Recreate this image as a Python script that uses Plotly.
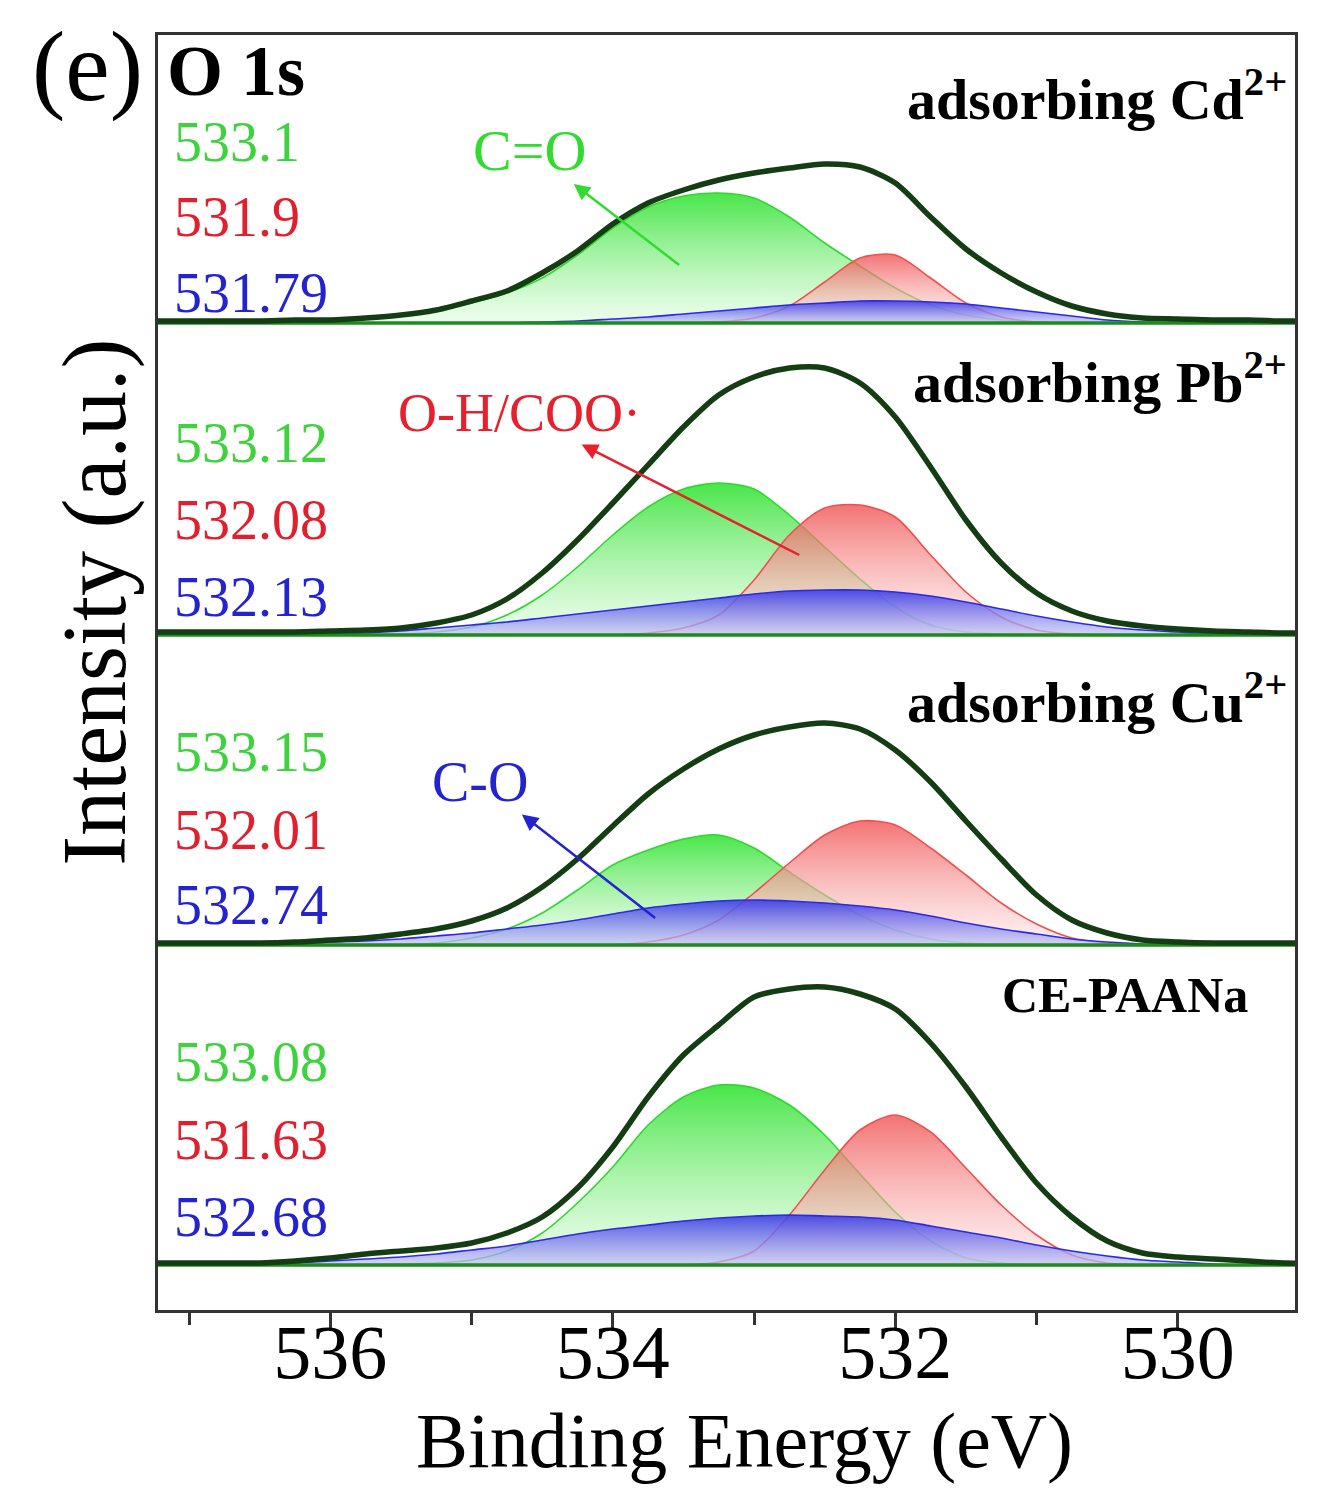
import plotly.graph_objects as go

# Binding energy grid (eV)
E = [537.25, 537.0, 536.75, 536.5, 536.25, 536.0, 535.75, 535.5, 535.25, 535.0,
     534.75, 534.5, 534.25, 534.0, 533.75, 533.5, 533.25, 533.0, 532.75, 532.5,
     532.25, 532.0, 531.75, 531.5, 531.25, 531.0, 530.75, 530.5, 530.25, 530.0,
     529.75, 529.5, 529.25, 529.0]

# ---- adsorbing Cd2+ ----
cd_env   = [2, 2, 2, 2, 3, 3, 5, 8, 13, 22, 32, 50, 72, 99, 120, 133, 143, 150, 155, 159,
            156, 140, 106, 74, 50, 31, 17, 9, 5, 4, 3, 3, 2, 2]
cd_green = [0, 0, 0, 0, 1, 2, 4, 7, 12, 20, 30, 45, 68, 95, 116, 127, 130, 125, 106, 80,
            57, 35, 18, 8, 3, 1, 0, 0, 0, 0, 0, 0, 0, 0]
cd_red   = [0, 0, 0, 0, 0, 0, 0, 0, 0, 0, 0, 0, 0, 0, 0, 0, 1, 5, 17, 41,
            65, 68, 45, 20, 6, 1, 0, 0, 0, 0, 0, 0, 0, 0]
cd_blue  = [0, 0, 0, 0, 0, 0, 0, 0, 0, 0, 0, 1, 2, 4, 6, 9, 12, 15, 18, 20,
            22, 22, 21, 19, 15, 11, 7, 3, 1, 0, 0, 0, 0, 0]

# ---- adsorbing Pb2+ ----
pb_env   = [3, 3, 3, 3, 3, 4, 5, 7, 12, 20, 36, 62, 95, 132, 170, 208, 240, 258, 267, 267,
            252, 218, 168, 115, 72, 42, 24, 14, 9, 6, 4, 3, 2, 2]
pb_green = [0, 0, 0, 0, 0, 0, 0, 1, 3, 8, 20, 40, 68, 100, 128, 146, 152, 146, 120, 88,
            56, 28, 10, 3, 1, 0, 0, 0, 0, 0, 0, 0, 0, 0]
pb_red   = [0, 0, 0, 0, 0, 0, 0, 0, 0, 0, 0, 0, 0, 0, 2, 7, 20, 55, 100, 127,
            130, 118, 80, 43, 18, 5, 1, 0, 0, 0, 0, 0, 0, 0]
pb_blue  = [0, 0, 0, 0, 0, 1, 2, 4, 7, 10, 13, 17, 21, 25, 29, 33, 37, 41, 44, 45,
            45, 43, 39, 33, 26, 19, 13, 8, 5, 3, 1, 0, 0, 0]

# ---- adsorbing Cu2+ ----
cu_env   = [2, 2, 2, 2, 3, 5, 7, 11, 16, 24, 37, 58, 86, 119, 151, 176, 196, 210, 218, 222,
            216, 195, 163, 124, 86, 50, 25, 12, 5, 3, 2, 2, 2, 2]
cu_green = [0, 0, 0, 0, 0, 0, 0, 0, 2, 7, 16, 32, 55, 80, 95, 106, 110, 97, 73, 50,
            30, 15, 6, 2, 0, 0, 0, 0, 0, 0, 0, 0, 0, 0]
cu_red   = [0, 0, 0, 0, 0, 0, 0, 0, 0, 0, 0, 0, 0, 0, 3, 10, 25, 52, 82, 110,
            124, 120, 97, 70, 42, 21, 7, 2, 0, 0, 0, 0, 0, 0]
cu_blue  = [0, 0, 0, 0, 1, 3, 4, 6, 9, 12, 16, 20, 25, 31, 37, 41, 44, 45, 44, 42,
            39, 35, 29, 22, 16, 11, 6, 3, 1, 0, 0, 0, 0, 0]

# ---- CE-PAANa ----
ce_env   = [2, 2, 2, 2, 4, 7, 11, 14, 17, 22, 32, 48, 77, 118, 168, 210, 240, 268, 276, 278,
            271, 256, 222, 178, 128, 82, 48, 24, 12, 8, 6, 4, 2, 2]
ce_green = [0, 0, 0, 0, 0, 0, 0, 1, 2, 5, 14, 32, 62, 98, 140, 168, 180, 177, 160, 130,
            91, 53, 24, 7, 2, 0, 0, 0, 0, 0, 0, 0, 0, 0]
ce_red   = [0, 0, 0, 0, 0, 0, 0, 0, 0, 0, 0, 0, 0, 0, 0, 0, 3, 14, 50, 95,
            135, 150, 133, 97, 60, 30, 10, 2, 0, 0, 0, 0, 0, 0]
ce_blue  = [0, 0, 0, 0, 2, 4, 6, 8, 11, 15, 19, 25, 31, 36, 40, 44, 47, 49, 50, 49,
            48, 45, 39, 33, 27, 20, 14, 9, 5, 3, 1, 0, 0, 0]

panel_names = ["adsorbing Cd<sup>2+</sup>", "adsorbing Pb<sup>2+</sup>",
               "adsorbing Cu<sup>2+</sup>", "CE-PAANa"]
panel_offsets = [987, 675, 365, 45]
peak_labels = [["533.1", "531.9", "531.79"],
               ["533.12", "532.08", "532.13"],
               ["533.15", "532.01", "532.74"],
               ["533.08", "531.63", "532.68"]]

panels = [
    (cd_env, cd_green, cd_red, cd_blue),
    (pb_env, pb_green, pb_red, pb_blue),
    (cu_env, cu_green, cu_red, cu_blue),
    (ce_env, ce_green, ce_red, ce_blue),
]

FONT = "Liberation Serif"
comp_styles = [
    # line colour, bottom colour, top colour
    ("#2fd82f", "rgba(225,252,225,0.55)", "rgba(40,225,40,0.85)"),
    ("#f05050", "rgba(255,230,230,0.50)", "rgba(240,80,80,0.80)"),
    ("#2a2ae6", "rgba(195,195,245,0.70)", "rgba(60,60,230,0.90)"),
]
label_colors = ["#3fd23f", "#e0202e", "#2323d0"]

fig = go.Figure()

for (env, g, r, b), off in zip(panels, panel_offsets):
    for comp, (lc, cbot, ctop) in zip((g, r, b), comp_styles):
        fig.add_trace(go.Scatter(x=E, y=[off] * len(E), mode="lines",
                                 line=dict(width=0, color="rgba(0,0,0,0)"),
                                 hoverinfo="skip", showlegend=False))
        fig.add_trace(go.Scatter(
            x=E, y=[off + v for v in comp], mode="lines",
            line=dict(color=lc, width=1.6, shape="spline", smoothing=0.8),
            fill="tonexty",
            fillgradient=dict(type="vertical",
                              colorscale=[[0, cbot], [1, ctop]]),
            showlegend=False, hoverinfo="skip"))
    # baseline
    fig.add_trace(go.Scatter(x=[E[0], E[-1]], y=[off, off], mode="lines",
                             line=dict(color="#1e8a1e", width=3.5),
                             showlegend=False, hoverinfo="skip"))
    # envelope
    fig.add_trace(go.Scatter(x=E, y=[off + v for v in env], mode="lines",
                             line=dict(color="#143d14", width=5.5, shape="spline", smoothing=0.8),
                             showlegend=False, hoverinfo="skip"))

annotations = []
# peak position labels
label_y = [[1168, 1093, 1017], [867, 790, 713], [558, 480, 405], [248, 170, 93]]
for labs, ys in zip(peak_labels, label_y):
    for t, yy, col in zip(labs, ys, label_colors):
        annotations.append(dict(x=537.12, y=yy, xref="x", yref="y", text=t,
                                showarrow=False, xanchor="left", yanchor="middle",
                                font=dict(family=FONT, size=56, color=col)))

# panel names
name_pos = [(529.21, 1215, 58), (529.21, 932, 58), (529.21, 612, 58), (529.49, 315, 50)]
for name, (xx, yy, fs) in zip(panel_names, name_pos):
    annotations.append(dict(x=xx, y=yy, xref="x", yref="y", text="<b>" + name + "</b>",
                            showarrow=False, xanchor="right", yanchor="middle",
                            font=dict(family=FONT, size=fs, color="black")))

# species labels; the arrow runs from a point on the peak to the label
species = [
    ("C=O", 534.59, 1160, 533.53, 1045, 58, "#2fdc2f"),
    ("O-H/COO·", 534.66, 897, 532.68, 755, 54, "#e8202e"),
    ("C-O", 534.94, 528, 533.70, 392, 56, "#2323d0"),
]
for txt, tx, ty, px, py, fs, col in species:
    annotations.append(dict(
        x=px, y=py, ax=tx, ay=ty, xref="x", yref="y", axref="x", ayref="y",
        text=txt, showarrow=True, arrowside="start", startarrowhead=2,
        startarrowsize=1.3, arrowwidth=2.5, arrowcolor=col, startstandoff=0,
        font=dict(family=FONT, size=fs, color=col)))

annotations += [
    # panel letter and element
    dict(x=-0.062, y=0.975, xref="paper", yref="paper", text="(e)", showarrow=False,
         xanchor="center", yanchor="middle", font=dict(family=FONT, size=100, color="black")),
    dict(x=0.006, y=0.972, xref="paper", yref="paper", text="<b>O 1s</b>", showarrow=False,
         xanchor="left", yanchor="middle", font=dict(family=FONT, size=72, color="black")),
    # axis titles
    dict(x=0.516, y=-0.102, xref="paper", yref="paper", text="Binding Energy (eV)", showarrow=False,
         xanchor="center", yanchor="middle", font=dict(family=FONT, size=78, color="black")),
    dict(x=-0.055, y=0.555, xref="paper", yref="paper", text="Intensity (a.u.)", showarrow=False,
         textangle=-90, xanchor="center", yanchor="middle",
         font=dict(family=FONT, size=90, color="black")),
]

fig.update_layout(
    width=1312, height=1496,
    margin=dict(l=150, r=25, t=27, b=194),
    paper_bgcolor="white", plot_bgcolor="white",
    showlegend=False,
    annotations=annotations,
    xaxis=dict(range=[537.22, 529.17], showgrid=False, zeroline=False,
               showline=True, mirror=True, linecolor="#333333", linewidth=3,
               ticks="outside", ticklen=18, tickwidth=2.5, tickcolor="#333333",
               tick0=530, dtick=2, ticklabelstandoff=-44,
               minor=dict(ticks="outside", dtick=1, ticklen=12, tickwidth=2.5, tickcolor="#333333"),
               tickfont=dict(family=FONT, size=76, color="black")),
    yaxis=dict(range=[0, 1275], showgrid=False, zeroline=False,
               showline=True, mirror=True, linecolor="#333333", linewidth=3,
               showticklabels=False, ticks=""),
)

fig.write_html("out.html")
